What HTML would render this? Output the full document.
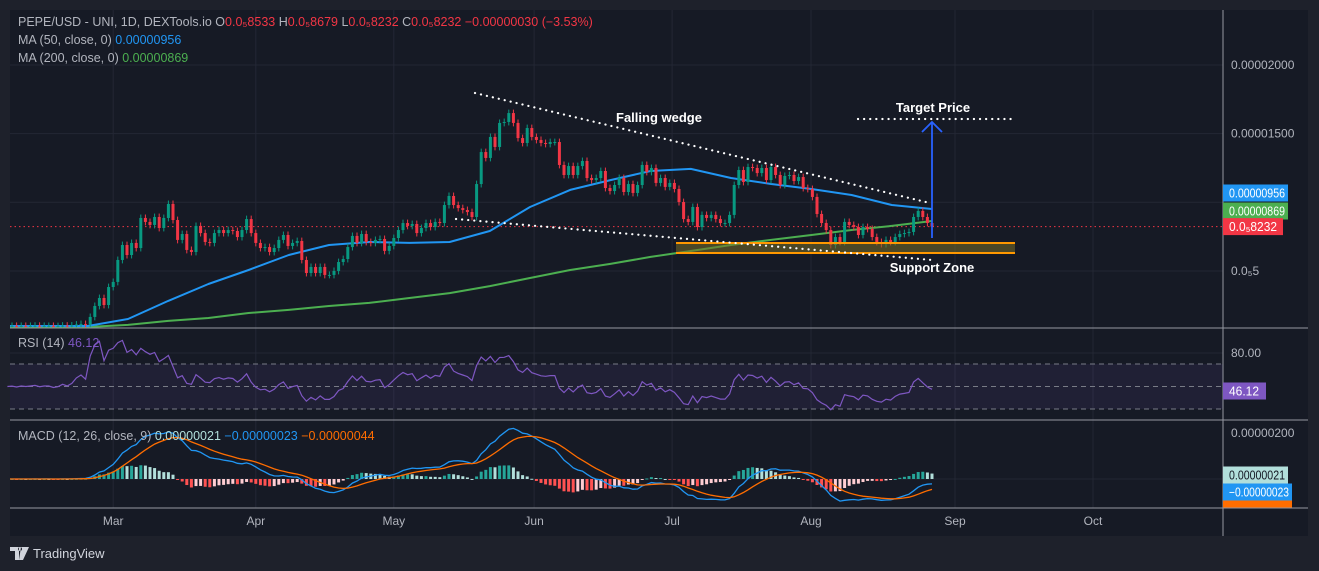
<!DOCTYPE html>
<html><head><meta charset="utf-8">
<style>
html,body{margin:0;padding:0;background:#1e212b;}
svg{display:block;font-family:"Liberation Sans",sans-serif;}
</style></head>
<body>
<svg id="chart" width="1319" height="571" viewBox="0 0 1319 571">
<rect x="0" y="0" width="1319" height="571" fill="#1e212b"/>
<rect x="10" y="10" width="1298" height="526" fill="#161a25"/>
<g id="grid"></g>
<clipPath id="mainClip"><rect x="10" y="10" width="1213" height="318"/></clipPath>
<g id="main" clip-path="url(#mainClip)"></g>
<g id="rsi"></g>
<clipPath id="macdClip"><rect x="10" y="421" width="1213" height="87"/></clipPath>
<g id="macd" clip-path="url(#macdClip)"></g>
<g id="annot"></g>
<g id="axes"></g>

<g font-size="12.5" fill="#b2b5be">
<text x="18" y="26">PEPE/USD - UNI, 1D, DEXTools.io  O<tspan fill="#f23645">0.0₅8533</tspan>  H<tspan fill="#f23645">0.0₅8679</tspan>  L<tspan fill="#f23645">0.0₅8232</tspan>  C<tspan fill="#f23645">0.0₅8232</tspan>  <tspan fill="#f23645">−0.00000030 (−3.53%)</tspan></text>
<text x="18" y="44">MA (50, close, 0)  <tspan fill="#2196f3">0.00000956</tspan></text>
<text x="18" y="62">MA (200, close, 0)  <tspan fill="#4caf50">0.00000869</tspan></text>
<text x="18" y="347">RSI (14)  <tspan fill="#7e57c2">46.12</tspan></text>
<text x="18" y="440">MACD (12, 26, close, 9)  <tspan fill="#b2dfdb">0.00000021</tspan>  <tspan fill="#2196f3">−0.00000023</tspan>  <tspan fill="#ff6d00">−0.00000044</tspan></text>
</g>
<g>
<path d="M10 547 H19 V560 H15 V551 H10 Z M21 547 H29 L23 560 H19 Z M20 547 a2 2 0 1 0 0.1 0" fill="#d1d4dc"/>
<text x="33" y="558" font-size="13" fill="#d1d4dc">TradingView</text>
</g>
</svg>
<script>
// ---- data (price units of 1e-6 USD) ----
const closes = [0.99,1.0,0.98,1.0,0.99,1.0,1.01,0.99,1.0,1.0,0.98,0.99,1.02,1.0,1.03,
1.1,1.14,1.1,1.65,2.45,3.03,2.52,3.83,4.20,5.80,6.89,6.16,7.04,6.67,8.86,8.57,8.35,8.93,8.13,8.86,9.88,8.71,7.26,7.69,6.53,6.38,8.28,7.76,7.11,7.04,7.76,7.98,7.76,7.98,7.91,7.47,7.98,8.78,7.76,7.04,6.67,6.74,6.38,6.67,7.26,7.62,6.82,7.04,7.18,5.80,4.85,5.29,4.85,5.29,4.71,4.71,5.00,5.65,5.87,6.74,7.55,7.04,7.69,7.11,7.04,7.26,7.33,6.46,6.82,7.40,7.98,8.49,8.28,8.42,
7.76,8.13,8.49,8.20,8.57,8.49,9.80,10.46,9.80,9.58,9.44,9.29,8.93,11.33,13.66,13.23,14.76,14.03,15.78,15.85,16.50,15.78,14.68,14.32,15.41,14.76,14.54,14.32,14.25,14.39,14.39,12.72,11.99,12.64,11.99,12.64,13.01,11.77,11.62,11.77,12.28,11.04,10.82,11.26,11.77,10.75,11.33,10.68,11.26,12.72,12.21,12.50,11.41,11.77,11.12,11.41,10.97,10.02,8.78,8.57,9.66,8.20,9.08,8.86,9.08,8.78,8.49,8.49,9.08,11.26,12.35,11.48,12.57,12.50,12.13,12.50,11.62,12.57,11.99,11.26,11.92,11.99,11.55,11.84,11.04,10.97,10.39,9.15,8.49,7.98,6.89,7.47,7.11,8.57,8.35,8.20,7.62,8.20,8.06,7.47,7.11,6.96,7.26,7.11,7.47,7.69,7.76,7.84,8.93,9.37,8.93,8.49,8.23];
const ma50 = [0.99,0.99,0.99,1.50,2.82,4.05,5.07,6.16,6.89,7.11,7.04,7.11,7.91,9.66,10.90,11.62,12.28,12.43,11.77,11.33,10.97,10.53,9.80,9.51];
const ma200 = [0.92,0.92,0.92,1.07,1.36,1.57,1.94,2.16,2.45,2.67,3.03,3.39,3.90,4.49,5.07,5.51,6.02,6.45,6.89,7.26,7.62,7.98,8.28,8.64];
const priceTicks = [20,15,10,5];
const priceTickLabels = ["0.00002000","0.00001500","","0.0₅5"];
const months = ["Mar","Apr","May","Jun","Jul","Aug","Sep","Oct"];
const monthDayIndex = [23,54,84,114.5,144.5,174.7,206,236]; // candle-day index of each month start
const rsiLevels = [70,50,30];

// ---- scales ----
const N = closes.length;
const step = 4.6, lastX = 932;
const xOf = i => lastX - (N-1-i)*step;
const yP = v => 65 + (20 - v)*13.73;
const yR = v => 386.5 - (v-50)*1.125;
const yM = v => 479 - v*23.5;
const NS = "http://www.w3.org/2000/svg";
function mk(tag, attrs, parent){const e=document.createElementNS(NS,tag);for(const k in attrs)e.setAttribute(k,attrs[k]);parent.appendChild(e);return e;}
const grid=document.getElementById('grid'), main=document.getElementById('main'), rsiG=document.getElementById('rsi'), macdG=document.getElementById('macd'), axes=document.getElementById('axes'), annot=document.getElementById('annot');

// grid
monthDayIndex.forEach((d,k)=>{
  const x = xOf(d);
  const l = mk('line',{x1:x,x2:x,y1:10,y2:508,stroke:'#232734','stroke-width':1},grid);
  
  
  const t = mk('text',{x:x,y:525,'text-anchor':'middle','font-size':12,fill:'#b2b5be'},axes);
  t.textContent = months[k];
  
  
});
priceTicks.forEach((v,k)=>{
  const y=yP(v);
  const l=mk('line',{x1:10,x2:1223,y1:y,y2:y,stroke:'#232734'},grid);
  
  
  const t=mk('text',{x:1231,y:y+4,'font-size':12,fill:'#b2b5be'},axes);
  t.textContent=priceTickLabels[k];
  
  
});
[353,479].forEach(y=>{const l=mk('line',{x1:10,x2:1223,y1:y,y2:y,stroke:'#232734'},grid);
  
  });

// current price line
const pl=mk('line',{x1:10,x2:1223,y1:yP(closes[N-1]),y2:yP(closes[N-1]),stroke:'#f23645','stroke-dasharray':'1.5 3','stroke-width':1},main);



// MAs
function maPath(arr,color,name){
  const M=arr.length, x0=xOf(0), x1=xOf(N-1);
  const d=arr.map((v,k)=>(k?'L':'M')+(x0+k*(x1-x0)/(M-1)).toFixed(1)+' '+yP(v).toFixed(1)).join(' ');
  const p=mk('path',{d:d,fill:'none',stroke:color,'stroke-width':2,'stroke-linejoin':'round'},main);
  
  
}
maPath(ma200,'#4caf50','ma200-line');
maPath(ma50,'#2196f3','ma50-line');

// candles
for(let i=0;i<N;i++){
  const o = i? closes[i-1]:closes[i], c=closes[i];
  const up = c>=o, col= up?'#089981':'#f23645';
  const hi=Math.max(o,c)+0.25, lo=Math.min(o,c)-0.25;
  const x=xOf(i);
  const w=mk('line',{x1:x,x2:x,y1:yP(hi),y2:yP(lo),stroke:col,'stroke-width':1},main);
  
  
  const yt=yP(Math.max(o,c)), yb=yP(Math.min(o,c));
  const b=mk('rect',{x:x-1.5,y:yt,width:3,height:Math.max(1,yb-yt),fill:col},main);
  
  
}

// RSI
const band=mk('rect',{x:10,y:yR(70),width:1213,height:yR(30)-yR(70),fill:'rgba(126,87,194,0.1)'},rsiG);


rsiLevels.forEach(v=>{const l=mk('line',{x1:10,x2:1223,y1:yR(v),y2:yR(v),stroke:'#787b86','stroke-dasharray':'5 4','stroke-width':1},rsiG);
  
  });
let ag=0.05, al=0.05; const rsi=[50];
for(let i=1;i<N;i++){const d=closes[i]-closes[i-1];ag=(ag*13+Math.max(d,0))/14;al=(al*13+Math.max(-d,0))/14;rsi.push(100-100/(1+ag/al));}
const rp=mk('path',{d:rsi.map((v,i)=>(i?'L':'M')+xOf(i).toFixed(1)+' '+yR(v).toFixed(1)).join(' '),fill:'none',stroke:'#7e57c2','stroke-width':1.2},rsiG);



// MACD
function ema(arr,n){const k=2/(n+1);let e=arr[0];return arr.map(v=>e=v*k+e*(1-k));}
const e12=ema(closes,12), e26=ema(closes,26);
const macd=e12.map((v,i)=>v-e26[i]); const sig=ema(macd,9); const hist=macd.map((v,i)=>v-sig[i]);
for(let i=0;i<N;i++){
  const h=hist[i], prev=i?hist[i-1]:0;
  const col = h>=0 ? (h>=prev?'#26a69a':'#b2dfdb') : (h<prev?'#ff5252':'#ffcdd2');
  const y0=yM(0), y1=yM(h);
  const r=mk('rect',{x:xOf(i)-1.5,y:Math.min(y0,y1),width:3,height:Math.max(1,Math.abs(y1-y0)),fill:col},macdG);
  
  
}
const mp=mk('path',{d:macd.map((v,i)=>(i?'L':'M')+xOf(i).toFixed(1)+' '+yM(v).toFixed(1)).join(' '),fill:'none',stroke:'#2196f3','stroke-width':1.3},macdG);


const sp=mk('path',{d:sig.map((v,i)=>(i?'L':'M')+xOf(i).toFixed(1)+' '+yM(v).toFixed(1)).join(' '),fill:'none',stroke:'#ff6d00','stroke-width':1.3},macdG);



// pane dividers & axis
[[10,328,1308,328],[10,420,1308,420],[10,508,1308,508],[1223,10,1223,536]].forEach(a=>{
  const l=mk('line',{x1:a[0],y1:a[1],x2:a[2],y2:a[3],stroke:'#9598a1','stroke-width':1},axes);
  
  
});
let t80=mk('text',{x:1231,y:357,'font-size':12,fill:'#b2b5be'},axes); t80.textContent='80.00';


let tm=mk('text',{x:1231,y:437,'font-size':12,fill:'#b2b5be'},axes); tm.textContent='0.00000200';


function tag(y,bg,fg,txt,name,w,tl){
  const g=mk('g',{},axes);
  
  
  mk('rect',{x:1223,y:y-8.5,width:w,height:17,fill:bg},g);
  const t=mk('text',{x:1229,y:y+4.5,'font-size':12.5,fill:fg,textLength:tl,lengthAdjust:'spacingAndGlyphs'},g); t.textContent=txt;
}
tag(193,'#2196f3','#fff','0.00000956','ma50-price-tag',65,56);
tag(211,'#4caf50','#fff','0.00000869','ma200-price-tag',65,56);
tag(yP(closes[N-1]),'#f23645','#fff','0.0₅8232','last-price-tag',60,48);
tag(391,'#7e57c2','#fff','46.12','rsi-value-tag',43,30);
tag(475,'#b2dfdb','#131722','0.00000021','histogram-tag',65,56);
tag(492,'#2196f3','#fff','−0.00000023','macd-value-tag',69,60);
const ot=mk('rect',{x:1223,y:500.5,width:69,height:7,fill:'#ff6d00'},axes);



// annotations
function dotted(x1,y1,x2,y2,name){const l=mk('line',{x1,y1,x2,y2,stroke:'#ffffff','stroke-width':2.2,'stroke-dasharray':'0.1 6','stroke-linecap':'round'},annot);
  
  }
const sz=mk('g',{},annot);


mk('rect',{x:676,y:243,width:339,height:10,fill:'rgba(120,110,40,0.55)'},sz);
mk('line',{x1:676,x2:1015,y1:243,y2:243,stroke:'#ff9800','stroke-width':2},sz);
mk('line',{x1:676,x2:1015,y1:253,y2:253,stroke:'#ff9800','stroke-width':2},sz);
dotted(475,93,930,203,'wedge-upper-line');
dotted(456,219,932,260,'wedge-lower-line');
dotted(858,119,1012,119,'target-price-line');
const ar=mk('g',{},annot);


mk('line',{x1:932,y1:238,x2:932,y2:123,stroke:'#2962ff','stroke-width':1.8},ar);
mk('path',{d:'M922 132 L932 122 L942 132',fill:'none',stroke:'#2962ff','stroke-width':1.8},ar);
function label(x,y,txt,name){const t=mk('text',{x,y,'text-anchor':'middle','font-size':13,'font-weight':'bold',fill:'#ffffff'},annot);t.textContent=txt;
  
  }
label(659,122,'Falling wedge','falling-wedge-label');
label(933,112,'Target Price','target-price-label');
label(932,272,'Support Zone','support-zone-label');
</script>
</body></html>
